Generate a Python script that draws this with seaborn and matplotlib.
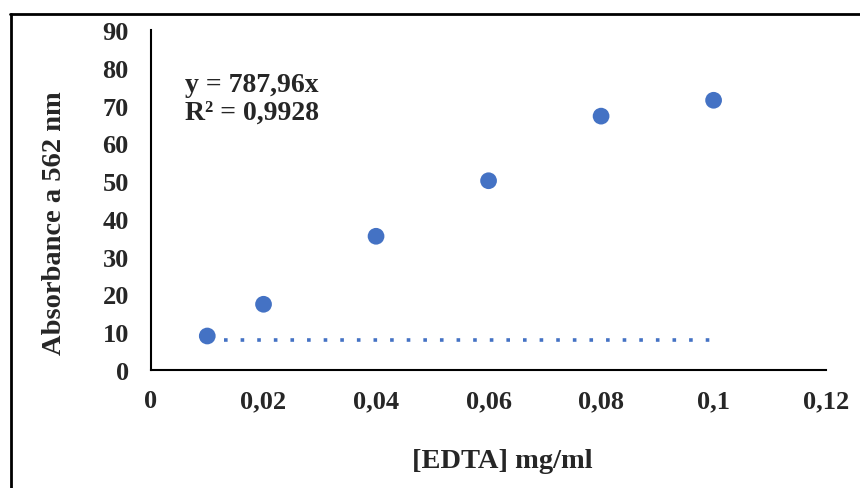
import pandas as pd
import matplotlib
matplotlib.use("Agg")
import matplotlib.pyplot as plt
import seaborn as sns
from matplotlib.lines import Line2D
from matplotlib.ticker import FuncFormatter

# data
edta = [0.01, 0.02, 0.04, 0.06, 0.08, 0.1]
absorbance = [9.0, 17.4, 35.4, 50.1, 67.2, 71.4]
trend_x = [0.013, 0.1]
trend_y = [7.9, 7.9]
x_ticks = [0, 0.02, 0.04, 0.06, 0.08, 0.1, 0.12]
y_ticks = [0, 10, 20, 30, 40, 50, 60, 70, 80, 90]


def comma(v, pos):
    s = f"{v:g}"
    return s.replace(".", ",")


def main():
    sns.set_style("white")
    plt.rcParams["font.family"] = ["Liberation Serif", "DejaVu Serif"]
    plt.rcParams["font.weight"] = "bold"

    df = pd.DataFrame({"x": edta, "y": absorbance})
    tr = pd.DataFrame({"x": trend_x, "y": trend_y})

    fig = plt.figure(figsize=(8.6, 4.89), dpi=100)
    ax = fig.add_axes([0.1756, 0.2413, 0.785, 0.6953])

    sns.lineplot(data=tr, x="x", y="y", ax=ax, color="#4472C4",
                 linewidth=2.6, linestyle=(0, (1, 3.6)), dash_capstyle="butt")
    sns.scatterplot(data=df, x="x", y="y", ax=ax, color="#4472C4",
                    s=145, edgecolor="none", zorder=3)

    ax.set_xlim(0, 0.12)
    ax.set_ylim(0, 90)
    ax.set_xticks(x_ticks)
    ax.set_yticks(y_ticks)
    ax.xaxis.set_major_formatter(FuncFormatter(comma))
    ax.tick_params(axis="both", length=0, labelsize=19)
    ax.tick_params(axis="x", pad=14)
    ax.tick_params(axis="y", pad=16)
    for lab in ax.get_xticklabels() + ax.get_yticklabels():
        lab.set_fontweight("bold")

    ax.set_xlabel("[EDTA] mg/ml", fontsize=20.5, fontweight="bold")
    ax.set_ylabel("Absorbance a 562 nm", fontsize=20.5, fontweight="bold")
    ax.xaxis.set_label_coords(0.52, -0.228)
    ax.yaxis.set_label_coords(-0.125, 0.435)

    for side in ["top", "right"]:
        ax.spines[side].set_visible(False)
    for side in ["left", "bottom"]:
        ax.spines[side].set_color("black")
        ax.spines[side].set_linewidth(1.5)

    ax.text(0.006, 79, "y = 787,96x\nR² = 0,9928", fontsize=20,
            fontweight="bold", va="top", ha="left", linespacing=1.15)

    # outer frame of the chart area
    fig.add_artist(Line2D([10 / 860, 1], [1 - 15 / 489, 1 - 15 / 489],
                          color="black", linewidth=2))
    fig.add_artist(Line2D([11 / 860, 11 / 860], [0, 1 - 15 / 489],
                          color="black", linewidth=2))

    fig.savefig("out.png", dpi=100)


if __name__ == "__main__":
    main()
